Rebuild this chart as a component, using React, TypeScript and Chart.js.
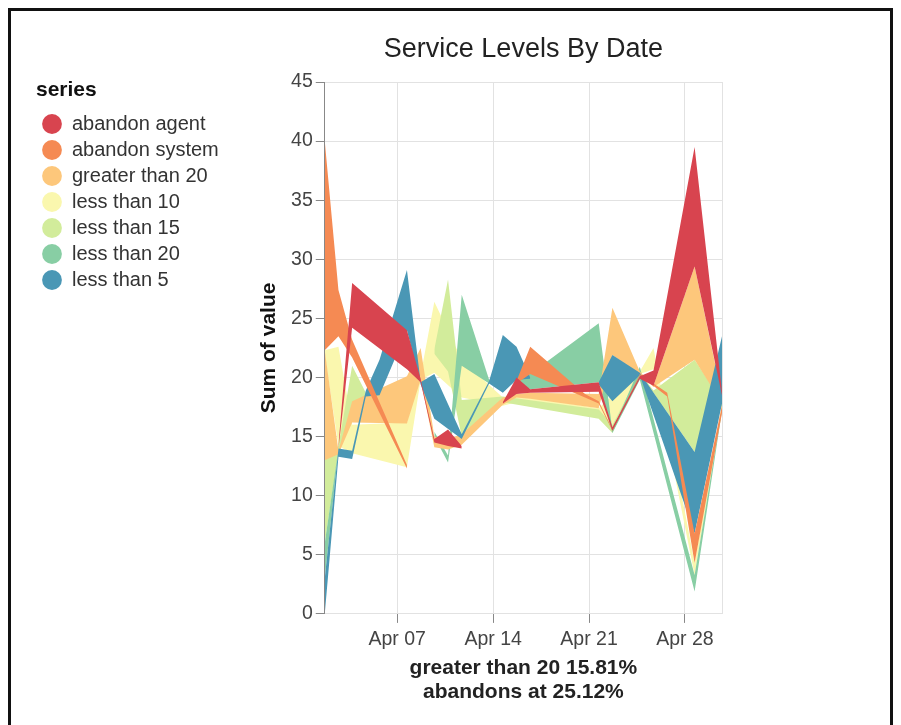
import React, { useEffect, useRef } from 'react';
import { Chart, registerables } from 'chart.js';

Chart.register(...registerables);

const FONT = "'Liberation Sans', Arial, sans-serif";
const _ = null; // no value that day (area spans across)
const G = NaN; // break in the area

// dates: day of April (UTC midnight), shown in local time (UTC-7)
const DAY_OF_APRIL = [2, 3, 4, 5, 6, 7, 8, 9, 10, 11, 12, 13, 14, 15, 16, 17, 18, 19, 20, 21, 22, 23, 24, 25, 26, 27, 28, 29, 30, 31];
const TZ_SHIFT = -7 / 24;

const X_TICK_DAYS = [7, 14, 21, 28];
const X_TICK_LABELS = ['Apr 07', 'Apr 14', 'Apr 21', 'Apr 28'];

const SERIES = ['abandon agent', 'abandon system', 'greater than 20', 'less than 10', 'less than 15', 'less than 20', 'less than 5'];
const COLORS = ['#d8444f', '#f58a53', '#fdc77b', '#faf7ae', '#d2ec9b', '#88cea4', '#4a97b5'];
// drawing order: lower = drawn on top
const Z_ORDER = [0, 1, 3, 6, 5, 4, 2];

// band limits (bottom / top of each stacked area) per day
const AGENT_LO = [
  _, 14.0, 24.2, _, _,
  _, 20.7, 19.6, 14.5, 14.2,
  14.0, G, _, 17.8, 18.6,
  18.7, _, _, _, _,
  18.8, 15.5, _, 19.9, 19.3,
  _, _, 29.4, _, 18.5];
const AGENT_HI = [
  _, 14.3, 28.0, _, _,
  _, 24.0, 19.9, 14.8, 15.6,
  14.2, G, _, 17.9, 20.0,
  19.0, _, _, _, _,
  19.6, 15.8, _, 20.1, 20.6,
  _, _, 39.5, _, 18.8];

const SYSTEM_LO = [
  22.3, 23.5, 21.7, _, _,
  _, 12.3, _, _, _,
  G, _, _, _, 19.5,
  20.3, _, _, _, 18.3,
  17.8, 15.5, _, 20.2, _,
  18.4, _, 4.3, _, 17.0];
const SYSTEM_HI = [
  40.0, 27.4, 23.2, _, _,
  _, 12.6, _, _, _,
  G, _, _, _, 19.7,
  22.6, _, _, _, 18.6,
  18.0, 15.6, _, 20.3, _,
  18.7, _, 6.8, _, 17.6];

const GT20_LO = [
  13.0, 13.5, 16.2, _, _,
  _, 16.1, 19.8, 14.1, 13.9,
  14.3, _, _, 17.7, 18.3,
  18.2, _, _, _, _,
  17.4, 21.9, _, 20.3, 19.2,
  _, _, 21.5, _, 17.8];
const GT20_HI = [
  22.3, 13.8, 18.0, _, _,
  _, 20.1, 22.5, 15.0, 14.8,
  15.2, _, _, 18.3, 18.6,
  18.7, _, _, _, _,
  18.6, 25.9, _, 20.5, 19.3,
  _, _, 29.4, _, 18.4];

const LT10_LO = [
  22.0, 14.2, 13.6, _, _,
  _, 12.4, 19.8, 20.4, _,
  18.3, _, _, 17.6, 17.9,
  _, _, _, _, _,
  16.9, 16.0, _, 20.3, 20.7,
  _, _, 3.3, _, 17.3];
const LT10_HI = [
  22.3, 22.6, 16.0, _, _,
  _, 16.2, 20.2, 26.4, _,
  21.5, _, _, 18.3, 18.5,
  _, _, _, _, _,
  17.4, 18.5, _, 20.5, 22.5,
  _, _, 4.3, _, 17.8];

const LT15_LO = [
  6.0, 13.8, 16.3, 18.3, _,
  G, _, _, 22.0, 20.5,
  15.0, _, _, 17.9, _,
  _, _, _, _, _,
  16.5, 15.3, _, 20.2, 18.7,
  _, _, 13.7, _, 17.6];
const LT15_HI = [
  13.0, 14.2, 21.0, 18.7, _,
  G, _, _, 22.4, 28.3,
  18.1, _, _, 18.4, _,
  _, _, _, _, _,
  17.3, 16.0, _, 20.4, 18.9,
  _, _, 21.5, _, 18.0];

const LT20_LO = [
  3.0, 13.9, _, _, G,
  _, _, _, 15.0, 12.8,
  21.0, _, 19.5, _, 19.7,
  19.0, _, _, _, _,
  19.6, 15.3, _, 19.8, _,
  _, _, 1.9, _, 17.2];
const LT20_HI = [
  6.0, 14.0, _, _, G,
  _, _, _, 15.4, 13.4,
  27.0, _, 19.8, _, 20.5,
  20.3, _, _, _, _,
  24.6, 15.5, _, 20.9, _,
  _, _, 3.3, _, 17.4];

const LT5_LO = [
  0.0, 13.3, 13.1, 18.4, 18.5,
  _, 24.0, 19.4, 16.5, _,
  14.8, _, 19.5, 18.7, 19.8,
  19.9, _, G, _, _,
  19.4, 18.0, _, 20.2, _,
  _, _, 6.8, _, 17.8];
const LT5_HI = [
  3.0, 14.0, 13.8, 18.9, 21.5,
  _, 29.1, 19.6, 20.3, _,
  15.2, _, 19.7, 23.6, 22.6,
  20.0, _, G, _, _,
  19.6, 21.9, _, 20.4, _,
  _, _, 13.7, _, 23.5];

const LOWS = [AGENT_LO, SYSTEM_LO, GT20_LO, LT10_LO, LT15_LO, LT20_LO, LT5_LO];
const HIGHS = [AGENT_HI, SYSTEM_HI, GT20_HI, LT10_HI, LT15_HI, LT20_HI, LT5_HI];

const X_MIN = DAY_OF_APRIL[0] + TZ_SHIFT;
const X_MAX = DAY_OF_APRIL[DAY_OF_APRIL.length - 1] + TZ_SHIFT;

function toPoints(arr: (number | null)[]) {
  const out: { x: number; y: number | null }[] = [];
  arr.forEach((v, i) => {
    if (v === null) return;
    out.push({ x: DAY_OF_APRIL[i] + TZ_SHIFT, y: Number.isNaN(v) ? null : v });
  });
  return out;
}

export default function App() {
  const ref = useRef<HTMLCanvasElement>(null);

  useEffect(() => {
    if (!ref.current) return;
    const datasets: any[] = [];
    SERIES.forEach((name, s) => {
      datasets.push({
        label: '_lo',
        data: toPoints(LOWS[s]),
        order: Z_ORDER[s],
        borderWidth: 0,
        borderColor: 'rgba(0,0,0,0)',
        backgroundColor: 'rgba(0,0,0,0)',
        pointRadius: 0,
        spanGaps: false,
        fill: false,
      });
      datasets.push({
        label: name,
        data: toPoints(HIGHS[s]),
        order: Z_ORDER[s],
        borderWidth: 0,
        borderColor: COLORS[s],
        backgroundColor: COLORS[s],
        pointRadius: 0,
        pointStyle: 'circle',
        spanGaps: false,
        fill: '-1',
      });
    });

    const chart = new Chart(ref.current, {
      type: 'line',
      data: { datasets },
      options: {
        animation: false,
        responsive: false,
        devicePixelRatio: 1,
        events: [],
        layout: { padding: { left: 36, right: 179, top: 0, bottom: 21 } },
        plugins: {
          title: {
            display: true,
            text: 'Service Levels By Date',
            fullSize: false,
            align: 'center',
            color: '#222',
            font: { family: FONT, size: 27, weight: 'normal' },
            padding: { top: 33.5, bottom: 16.1 },
          },
          legend: {
            position: 'left',
            align: 'start',
            maxWidth: 260,
            title: {
              display: true,
              text: 'series',
              position: 'start',
              color: '#111',
              font: { family: FONT, size: 21, weight: 'bold' },
              padding: { top: 79.4, bottom: 3.4 },
            },
            labels: {
              usePointStyle: true,
              boxWidth: 20,
              boxHeight: 14,
              padding: 6,
              color: '#333',
              font: { family: FONT, size: 20 },
              filter: (item: any) => item.text !== '_lo',
              sort: (a: any, b: any) => SERIES.indexOf(a.text) - SERIES.indexOf(b.text),
            },
          },
          tooltip: { enabled: false },
        },
        scales: {
          x: {
            type: 'linear',
            min: X_MIN,
            max: X_MAX,
            afterBuildTicks: (axis: any) => {
              axis.ticks = [...X_TICK_DAYS.map((v) => ({ value: v })), { value: X_MAX }];
            },
            ticks: {
              autoSkip: false,
              maxRotation: 0,
              padding: 4.7,
              color: '#444',
              font: { family: FONT, size: 19.5 },
              callback: (v: any) => {
                const k = X_TICK_DAYS.indexOf(Number(v));
                return k >= 0 ? X_TICK_LABELS[k] : '';
              },
            },
            grid: {
              color: '#e2e2e2',
              tickLength: 9,
              tickColor: (c: any) => (c.tick && c.tick.value > 29 ? 'rgba(0,0,0,0)' : '#888'),
            },
            border: { display: false },
            title: {
              display: true,
              text: ['greater than 20 15.81%', 'abandons at 25.12%'],
              color: '#222',
              font: { family: FONT, size: 21, weight: 'bold', lineHeight: 1.15 },
              padding: { top: 0, bottom: 0 },
            },
          },
          y: {
            min: 0,
            max: 45,
            ticks: {
              stepSize: 5,
              padding: 3,
              color: '#444',
              font: { family: FONT, size: 19.5 },
            },
            grid: { color: '#e2e2e2', tickLength: 9, tickColor: '#888' },
            border: { display: true, color: '#888' },
            title: {
              display: true,
              text: 'Sum of value',
              color: '#111',
              font: { family: FONT, size: 21, weight: 'bold' },
              padding: { top: 27.4, bottom: 6.7 },
            },
          },
        },
      } as any,
    });
    return () => chart.destroy();
  }, []);

  return (
    <div style={{ position: 'fixed', left: 0, top: 0, width: 901, height: 725, background: '#fff' }}>
      <canvas ref={ref} width={901} height={725} style={{ position: 'absolute', left: 0, top: 0, width: 901, height: 725 }} />
      <div
        style={{
          position: 'absolute',
          left: 8,
          top: 8,
          width: 885,
          height: 740,
          boxSizing: 'border-box',
          borderTop: '3px solid #111',
          borderLeft: '3px solid #111',
          borderRight: '3px solid #111',
          pointerEvents: 'none',
        }}
      />
    </div>
  );
}
